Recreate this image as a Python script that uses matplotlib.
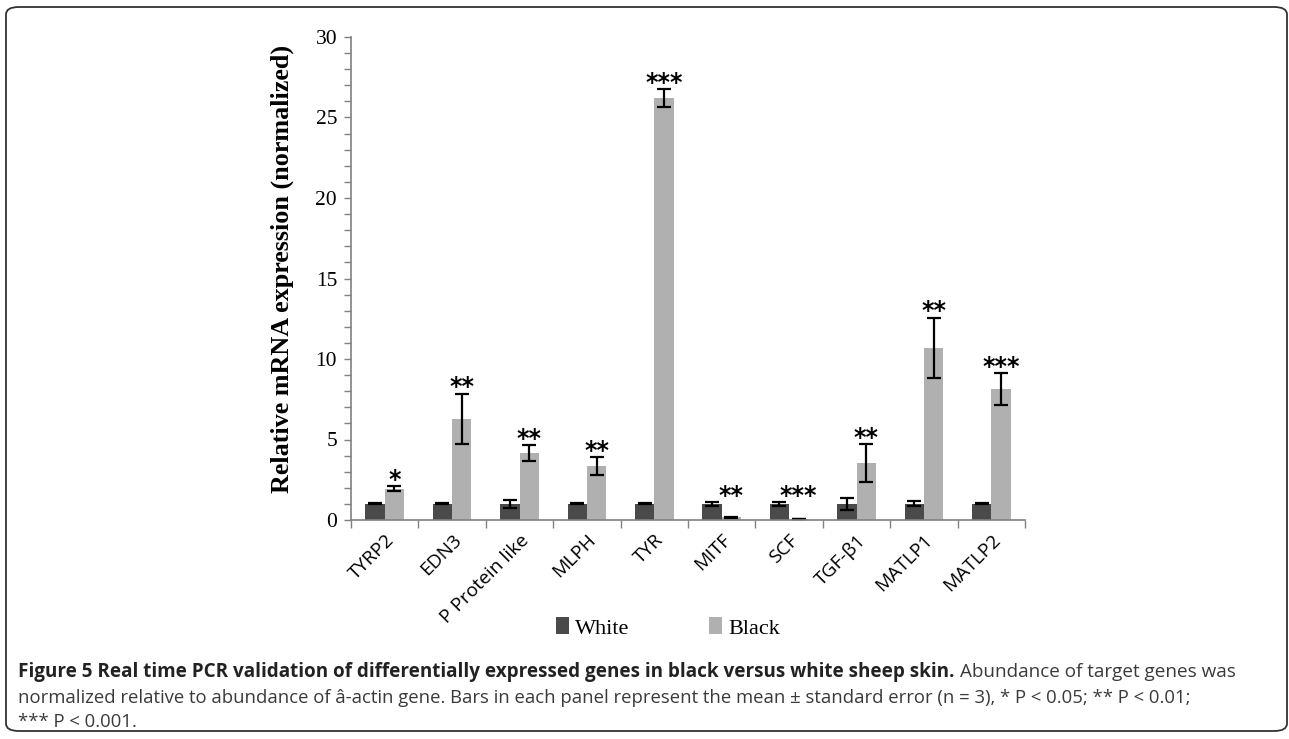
import matplotlib
matplotlib.use("Agg")
import matplotlib.pyplot as plt
import numpy as np
from matplotlib.patches import Patch, FancyBboxPatch
from matplotlib.ticker import MultipleLocator, FixedLocator, NullFormatter

genes = ["TYRP2", "EDN3", "P Protein like", "MLPH", "TYR", "MITF", "SCF", "TGF-β1", "MATLP1", "MATLP2"]
white_vals = [1.0, 1.0, 1.0, 1.0, 1.0, 1.0, 1.0, 1.0, 1.0, 1.0]
white_err = [0.03, 0.03, 0.25, 0.03, 0.03, 0.1, 0.1, 0.35, 0.15, 0.03]
black_vals = [1.94, 6.3, 4.15, 3.35, 26.2, 0.17, 0.05, 3.55, 10.7, 8.15]
black_err = [0.15, 1.55, 0.5, 0.55, 0.55, 0.02, 0.01, 1.17, 1.87, 0.98]
stars = ["*", "**", "**", "**", "***", "**", "***", "**", "**", "***"]
yticks = [0, 5, 10, 15, 20, 25, 30]

c_white = "#4a4a4a"
c_black = "#b0b0b0"
axis_col = "#808080"
serif = "Liberation Serif"

fig = plt.figure(figsize=(12.89, 7.39), dpi=100)
ax = fig.add_axes([351/1289, 1-520/739, (1025-351)/1289, (520-37)/739])

x = np.arange(len(genes))
w = 0.285
ek = dict(ecolor="black", elinewidth=1.6, capsize=5, capthick=1.6)
ax.bar(x - w/2, white_vals, w, color=c_white, yerr=white_err, error_kw=ek, zorder=2)
ax.bar(x + w/2, black_vals, w, color=c_black, yerr=black_err, error_kw=ek, zorder=2)

for xi, wv, we, bv, be, s in zip(x, white_vals, white_err, black_vals, black_err, stars):
    top = max(wv + we, bv + be)
    ax.annotate(s, (xi + w/2, top), xytext=(0, -4), textcoords="offset points",
                ha="center", va="bottom", fontsize=17, fontweight="bold",
                family="DejaVu Sans", color="black")

ax.set_xlim(-0.5, len(genes) - 0.5)
ax.set_ylim(0, 30)
ax.yaxis.set_major_locator(FixedLocator(yticks))
ax.yaxis.set_minor_locator(MultipleLocator(1))
ax.set_yticklabels([str(t) for t in yticks], family=serif, fontsize=15.5)
ax.tick_params(axis="y", which="both", direction="out", length=5, width=1, color=axis_col, pad=5)

ax.set_xticks(x)
ax.set_xticklabels(genes, rotation=45, ha="right", rotation_mode="anchor",
                   family="Open Sans", fontsize=13.8)
ax.tick_params(axis="x", which="major", length=0, pad=8)
ax.xaxis.set_minor_locator(FixedLocator(np.arange(-0.5, len(genes), 1.0)))
ax.xaxis.set_minor_formatter(NullFormatter())
ax.tick_params(axis="x", which="minor", direction="out", length=6, width=1, color=axis_col)

for sp in ["top", "right"]:
    ax.spines[sp].set_visible(False)
for sp in ["left", "bottom"]:
    ax.spines[sp].set_color(axis_col)
    ax.spines[sp].set_linewidth(1.2)

ax.set_ylabel("Relative mRNA expression (normalized)", family=serif, fontweight="bold",
              fontsize=18.8)
ax.yaxis.set_label_coords(-0.085, 0.52)

handles = [Patch(facecolor=c_white, label="White"), Patch(facecolor=c_black, label="Black")]
fig.legend(handles=handles, loc="center", bbox_to_anchor=(0.518, 1-628/739), ncol=2,
           frameon=False, prop={"family": serif, "size": 16}, handlelength=0.6,
           handleheight=0.8, handletextpad=0.25, columnspacing=3.6)

# Border
border = FancyBboxPatch((6/1289, 8/739), 1281/1289, 724/739,
                        boxstyle="round,pad=0,rounding_size=0.01",
                        transform=fig.transFigure, fill=False, edgecolor="#333333",
                        linewidth=1.3)
fig.patches.append(border)

# Caption
fig.canvas.draw()
renderer = fig.canvas.get_renderer()
cap_size = 13.6
t1 = fig.text(18/1289, 1-672/739, "Figure 5 Real time PCR validation of differentially expressed genes in black versus white sheep skin.",
              family="Open Sans", fontweight="bold", fontsize=cap_size, color="#222222", va="center")
bb = t1.get_window_extent(renderer=renderer)
fig.text((bb.x1 + 6)/1289, 1-672/739, "Abundance of target genes was",
         family="Open Sans", fontsize=cap_size, color="#3a3a3a", va="center")
fig.text(18/1289, 1-698/739,
         "normalized relative to abundance of â-actin gene. Bars in each panel represent the mean ± standard error (n = 3), * P < 0.05; ** P < 0.01;",
         family="Open Sans", fontsize=13.3, color="#3a3a3a", va="center")
fig.text(18/1289, 1-722/739, "*** P < 0.001.", family="Open Sans", fontsize=13.3,
         color="#3a3a3a", va="center")

fig.savefig("out.png", dpi=100)
